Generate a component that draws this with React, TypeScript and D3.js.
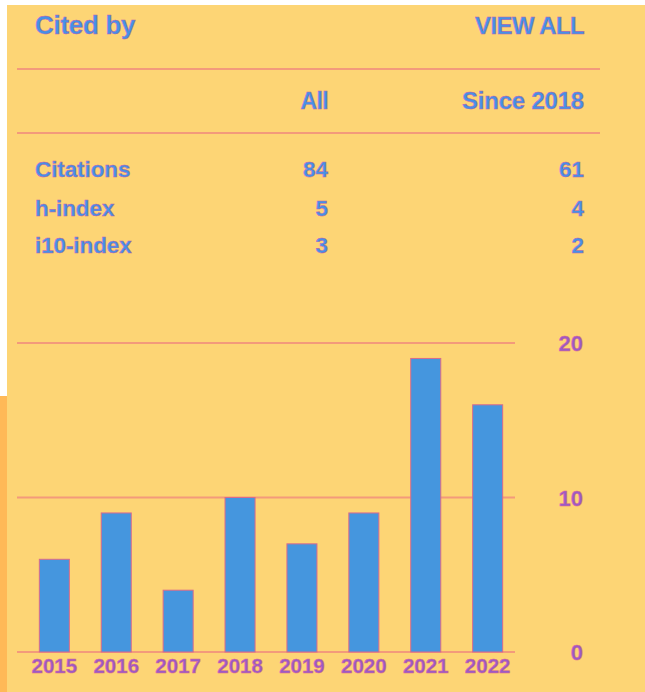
import React from "react";
import * as d3 from "d3";

const years = ["2015", "2016", "2017", "2018", "2019", "2020", "2021", "2022"];
const citations = [6, 9, 4, 10, 7, 9, 19, 16];
const yTicks = [0, 10, 20];
const metricNames = ["Citations", "h-index", "i10-index"];
const allValues = [84, 5, 3];
const sinceValues = [61, 4, 2];
const columnHeaders = ["All", "Since 2018"];

const W = 645;
const H = 692;
const BG = "#FDD575";
const LINE = "#F39A7B";
const BLUE = "#4591E6";
const BLUE_EDGE = "#C45AA8";
const PURPLE = "#9B5BC4";
const PURPLE_EDGE = "#E06A90";
const FONT = "'Liberation Sans', Arial, sans-serif";

export default function App() {
  const x = d3
    .scaleBand<string>()
    .domain(years)
    .range([22, 520])
    .paddingInner(0.515)
    .paddingOuter(0.28);
  const y = d3.scaleLinear().domain([0, 20]).range([652, 343]);

  const blueText = {
    fill: BLUE,
    stroke: BLUE_EDGE,
    strokeWidth: 0.45,
    fontFamily: FONT,
    fontWeight: 700 as const,
  };
  const rowY = [177, 216, 253];

  return (
    <svg
      width={W}
      height={H}
      style={{ position: "absolute", left: 0, top: 0, display: "block" }}
    >
      <rect x={0} y={0} width={W} height={H} fill="#FFFFFF" />
      <rect x={7} y={5} width={W - 7} height={H - 5} fill={BG} />
      <rect x={0} y={396} width={7} height={H - 396} fill="#FFB957" />

      {/* header */}
      <text x={35} y={34} fontSize={26} letterSpacing={-0.3} {...blueText}>
        Cited by
      </text>
      <text x={584} y={34} fontSize={24} textAnchor="end" letterSpacing={-0.6} {...blueText}>
        VIEW ALL
      </text>
      <line x1={17} x2={600} y1={69} y2={69} stroke={LINE} strokeWidth={2} />
      <text x={328} y={109} fontSize={23} textAnchor="end" letterSpacing={-0.6} {...blueText}>
        {columnHeaders[0]}
      </text>
      <text x={584} y={109} fontSize={24} textAnchor="end" letterSpacing={-0.2} {...blueText}>
        {columnHeaders[1]}
      </text>
      <line x1={17} x2={600} y1={133} y2={133} stroke={LINE} strokeWidth={2} />

      {metricNames.map((m, i) => (
        <g key={m}>
          <text x={35} y={rowY[i]} fontSize={22.5} letterSpacing={-0.1} {...blueText}>
            {m}
          </text>
          <text x={328} y={rowY[i]} fontSize={22.5} textAnchor="end" {...blueText}>
            {allValues[i]}
          </text>
          <text x={584} y={rowY[i]} fontSize={22.5} textAnchor="end" {...blueText}>
            {sinceValues[i]}
          </text>
        </g>
      ))}

      {/* grid */}
      {yTicks.map((t) => (
        <g key={t}>
          <line x1={17} x2={515} y1={y(t)} y2={y(t)} stroke={LINE} strokeWidth={2} />
          <text
            x={583}
            y={y(t) + 8}
            fontSize={22}
            textAnchor="end"
            fill={PURPLE}
            stroke={PURPLE_EDGE}
            strokeWidth={0.5}
            fontFamily={FONT}
            fontWeight={700}
          >
            {t}
          </text>
        </g>
      ))}

      {/* bars */}
      {years.map((yr, i) => (
        <rect
          key={yr}
          x={x(yr)}
          y={y(citations[i])}
          width={x.bandwidth()}
          height={y(0) - y(citations[i])}
          fill="#4596DE"
          stroke="#D96A8C"
          strokeWidth={1}
        />
      ))}

      {years.map((yr) => (
        <text
          key={"l" + yr}
          x={(x(yr) as number) + x.bandwidth() / 2}
          y={673}
          fontSize={20.5}
          textAnchor="middle"
          fill={PURPLE}
          stroke={PURPLE_EDGE}
          strokeWidth={0.5}
          fontFamily={FONT}
          fontWeight={700}
        >
          {yr}
        </text>
      ))}
    </svg>
  );
}
